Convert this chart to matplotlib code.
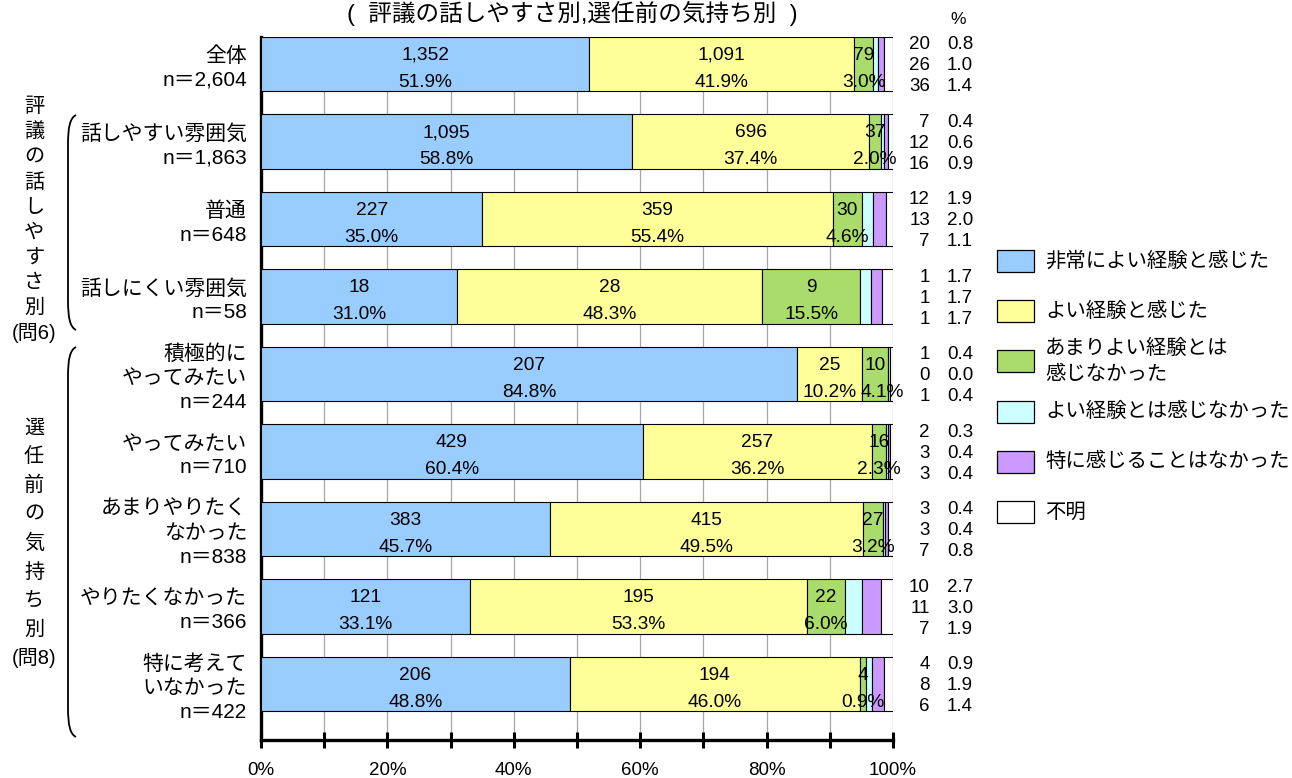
import numpy as np
import matplotlib
matplotlib.use("Agg")
import matplotlib.pyplot as plt
from matplotlib.patches import Rectangle, PathPatch
from matplotlib.path import Path

plt.rcParams['font.family'] = ['Liberation Sans', 'Noto Sans CJK JP']

# data
groups = ["全体", "話しやすい雰囲気", "普通", "話しにくい雰囲気",
          "積極的に\nやってみたい", "やってみたい", "あまりやりたく\nなかった",
          "やりたくなかった", "特に考えて\nいなかった"]

cnt_very_good = [1352, 1095, 227, 18, 207, 429, 383, 121, 206]
cnt_good = [1091, 696, 359, 28, 25, 257, 415, 195, 194]
cnt_not_very = [79, 37, 30, 9, 10, 16, 27, 22, 4]
cnt_not_good = [20, 7, 12, 1, 1, 2, 3, 10, 4]
cnt_nothing = [26, 12, 13, 1, 0, 3, 3, 11, 8]
cnt_unknown = [36, 16, 7, 1, 1, 3, 7, 7, 6]

pct_very_good = [51.9, 58.8, 35.0, 31.0, 84.8, 60.4, 45.7, 33.1, 48.8]
pct_good = [41.9, 37.4, 55.4, 48.3, 10.2, 36.2, 49.5, 53.3, 46.0]
pct_not_very = [3.0, 2.0, 4.6, 15.5, 4.1, 2.3, 3.2, 6.0, 0.9]
pct_not_good = [0.8, 0.4, 1.9, 1.7, 0.4, 0.3, 0.4, 2.7, 0.9]
pct_nothing = [1.0, 0.6, 2.0, 1.7, 0.0, 0.4, 0.4, 3.0, 1.9]
pct_unknown = [1.4, 0.9, 1.1, 1.7, 0.4, 0.4, 0.8, 1.9, 1.4]

series_names = ["非常によい経験と感じた", "よい経験と感じた", "あまりよい経験とは\n感じなかった",
                "よい経験とは感じなかった", "特に感じることはなかった", "不明"]
colors = ["#99CCFF", "#FFFF99", "#A9DC6A", "#CCFFFF", "#CC99FF", "#FFFFFF"]

counts = [cnt_very_good, cnt_good, cnt_not_very, cnt_not_good, cnt_nothing, cnt_unknown]
pcts = [pct_very_good, pct_good, pct_not_very, pct_not_good, pct_nothing, pct_unknown]

W, H = 1292, 778
fig = plt.figure(figsize=(W / 100, H / 100), dpi=100)
ax = fig.add_axes([261 / W, (H - 740) / H, 632 / W, 703 / H])


def fx(px):
    return px / W


def fy(py):
    return 1 - py / H


cnt = np.array(counts, dtype=float)
n_total = cnt.sum(axis=0)
widths = cnt / n_total * 100
y = np.arange(len(groups))

pct_labels = {}
left = np.zeros(len(groups))
for k in range(6):
    ax.barh(y, widths[k], left=left, height=0.7, color=colors[k],
            edgecolor="black", linewidth=0.8, zorder=3)
    if k < 3:
        for i in range(len(groups)):
            cx = left[i] + widths[k][i] / 2
            ax.annotate(f"{counts[k][i]:,}", (cx, y[i]), xytext=(0, 2.9),
                        textcoords="offset points", ha="center", va="baseline",
                        fontsize=13.8, zorder=5)
            pct_labels[k, i] = ax.annotate(f"{pcts[k][i]:.1f}%", (cx, y[i]), xytext=(0, -16.3),
                                           textcoords="offset points", ha="center", va="baseline",
                                           fontsize=13.8, zorder=5)
    left += widths[k]

ax.set_xlim(0, 100)
ax.set_ylim(8.723, -0.348)
ax.set_xticks(np.arange(0, 101, 10))
ax.set_xticklabels([f"{v}%" if v % 20 == 0 else "" for v in range(0, 101, 10)], fontsize=13.5)
ax.set_yticks([])
ax.grid(axis="x", color="#a6a6a6", linewidth=0.9)
ax.set_axisbelow(True)
for s in ["top", "right"]:
    ax.spines[s].set_visible(False)
ax.spines["left"].set_linewidth(2.4)
ax.spines["bottom"].set_linewidth(2.4)
ax.tick_params(axis="x", direction="inout", length=11, width=2.2, pad=10.5)

# category labels on the left
ytr = ax.get_yaxis_transform()
for i, g in enumerate(groups):
    lines = g.split("\n") + [f"n＝{int(n_total[i]):,}"]
    m = len(lines)
    for j, t in enumerate(lines):
        off = 4.5 + (j - (m - 1) / 2) * 24
        ax.annotate(t, (0, y[i]), xycoords=ytr, xytext=(-10, -off * 0.72),
                    textcoords="offset points", ha="right", va="center",
                    fontsize=15, annotation_clip=False)

# count and percent columns on the right for the last three series
for i in range(len(groups)):
    for j, k in enumerate([3, 4, 5]):
        off = 2 + (j - 1) * 21
        ax.annotate(f"{counts[k][i]}", (1, y[i]), xycoords=ytr,
                    xytext=(26.6, -off * 0.72), textcoords="offset points",
                    ha="right", va="center", fontsize=13.5, annotation_clip=False)
        ax.annotate(f"{pcts[k][i]:.1f}", (1, y[i]), xycoords=ytr,
                    xytext=(57.6, -off * 0.72), textcoords="offset points",
                    ha="right", va="center", fontsize=13.5, annotation_clip=False)

fig.text(fx(958), fy(20), "%", ha="center", va="center", fontsize=12.5)
fig.text(fx(572), fy(13), "(  評議の話しやすさ別,選任前の気持ち別  )",
         ha="center", va="center", fontsize=17)

# group captions with brackets
cap1 = list("評議の話しやすさ別") + ["(問6)"]
for j, c in enumerate(cap1):
    fig.text(fx(34), fy(107 + j * 25.1), c, ha="center", va="center", fontsize=14.5)
cap2 = list("選任前の気持ち別") + ["(問8)"]
for j, c in enumerate(cap2):
    fig.text(fx(34), fy(428 + j * 28.8), c, ha="center", va="center", fontsize=14.5)


def bracket(top, bot):
    pts = [(76, top), (70, top + 3), (68, top + 12), (68, top + 30),
           (68, bot - 30), (68, bot - 12), (70, bot - 3), (76, bot)]
    verts = [(fx(a), fy(b)) for a, b in pts]
    codes = [Path.MOVETO, Path.CURVE4, Path.CURVE4, Path.CURVE4,
             Path.LINETO, Path.CURVE4, Path.CURVE4, Path.CURVE4]
    fig.patches.append(PathPatch(Path(verts, codes), transform=fig.transFigure,
                                 fill=False, edgecolor="black", linewidth=1.3))


bracket(115, 330)
bracket(347, 737)

# legend
for k, name in enumerate(series_names):
    cy = 261 + k * 50.2
    fig.patches.append(Rectangle((fx(997), fy(cy + 11)), 37 / W, 22 / H,
                                 transform=fig.transFigure, facecolor=colors[k],
                                 edgecolor="black", linewidth=0.9))
    fig.text(fx(1045), fy(cy), name, ha="left", va="center", fontsize=14.7,
             linespacing=1.45)

# push a narrow-segment percent label right if it runs into its neighbour
fig.canvas.draw()
rend = fig.canvas.get_renderer()
for i in range(len(groups)):
    prev = pct_labels[1, i].get_window_extent(rend)
    cur = pct_labels[2, i].get_window_extent(rend)
    gap = prev.x1 + 4 - cur.x0
    if gap > 0:
        pct_labels[2, i].set_position((gap * 0.72, -16.3))

fig.savefig("out.png", dpi=100)
